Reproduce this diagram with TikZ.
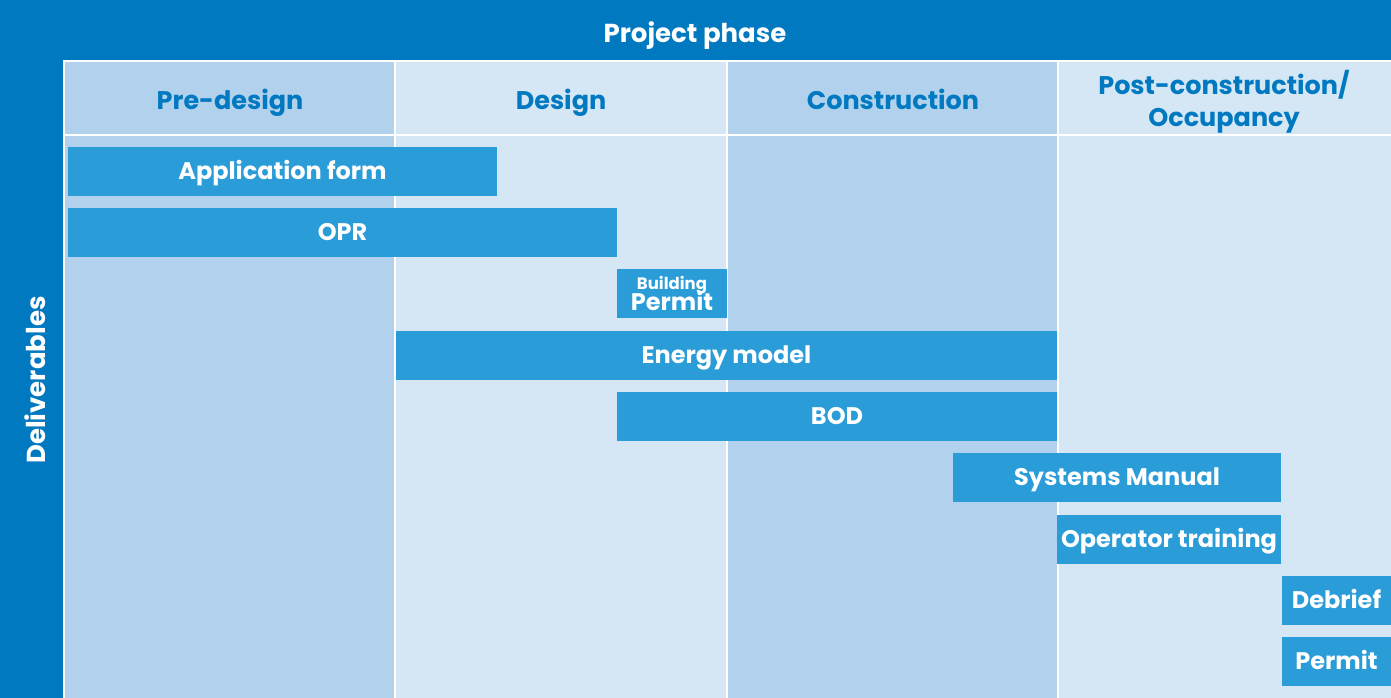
\documentclass[tikz,border=0pt]{standalone}
\usepackage{fontspec}
\setmainfont{Poppins}
\definecolor{dkblue}{HTML}{0079C1}
\definecolor{colA}{HTML}{B1D1EC}
\definecolor{colB}{HTML}{D5E7F5}
\definecolor{bar}{HTML}{2A9CD8}
\begin{document}
\begin{tikzpicture}[x=1pt,y=-1pt,
  colbox/.style={fill=#1,draw=white,line width=1.5pt},
  caps/.style={text height=#1,text depth=0pt},
  headtxt/.style={text=dkblue,font=\bfseries\fontsize{25.5}{32}\selectfont,align=center},
  barbox/.style={fill=bar,draw=none,text=white,font=\bfseries\fontsize{24}{26}\selectfont,inner sep=0pt}]
\useasboundingbox (0,0) rectangle (1391,698);
\fill[dkblue] (0,0) rectangle (1391,698);
% columns
\path[colbox=colA] (64,61) rectangle (395,135);
\path[colbox=colB] (395,61) rectangle (727,135);
\path[colbox=colA] (727,61) rectangle (1058,135);
\path[colbox=colB] (1058,61) rectangle (1393,135);
\path[colbox=colA] (64,135) rectangle (395,700);
\path[colbox=colB] (395,135) rectangle (727,700);
\path[colbox=colA] (727,135) rectangle (1058,700);
\path[colbox=colB] (1058,135) rectangle (1393,700);
% titles
\node[caps=18.2pt,inner sep=0pt,text=white,font=\bfseries\fontsize{26}{28}\selectfont] (title) at (695,33) {Project phase};
\node[text=white,font=\bfseries\fontsize{26}{28}\selectfont,rotate=90] (deliv) at (35,380) {Deliverables};
\node[headtxt,caps=17.8pt,inner sep=0pt] (h1) at (230,101) {Pre-design};
\node[headtxt,caps=17.8pt,inner sep=0pt] (h2) at (561,101) {Design};
\node[headtxt,caps=17.8pt,inner sep=0pt] (h3) at (893,101) {Construction};
\node[headtxt] (h4) at (1224,102) {Post-construction/\\Occupancy};
% bars
\node[barbox,caps=16.8pt,minimum width=429pt,minimum height=49pt] (b1) at (282.5,171.5) {Application form};
\node[barbox,caps=16.8pt,minimum width=549pt,minimum height=49pt] (b2) at (342.5,232.5) {OPR};
\node[barbox,minimum width=110pt,minimum height=49pt,align=center] (b3) at (672,293) {{\fontsize{16.5}{16}\selectfont Building}\\[-5pt]Permit};
\node[barbox,caps=16.8pt,minimum width=661pt,minimum height=49pt] (b4) at (726.5,355.5) {Energy model};
\node[barbox,caps=16.8pt,minimum width=440pt,minimum height=49pt] (b5) at (837,416.5) {BOD};
\node[barbox,caps=16.8pt,minimum width=328pt,minimum height=49pt] (b6) at (1117,477.5) {Systems Manual};
\node[barbox,caps=16.8pt,minimum width=224pt,minimum height=49pt] (b7) at (1169,539.5) {Operator training};
\node[barbox,caps=16.8pt,minimum width=109pt,minimum height=49pt] (b8) at (1336.5,600.5) {Debrief};
\node[barbox,caps=16.8pt,minimum width=109pt,minimum height=49pt] (b9) at (1336.5,661.5) {Permit};
\end{tikzpicture}
\end{document}
